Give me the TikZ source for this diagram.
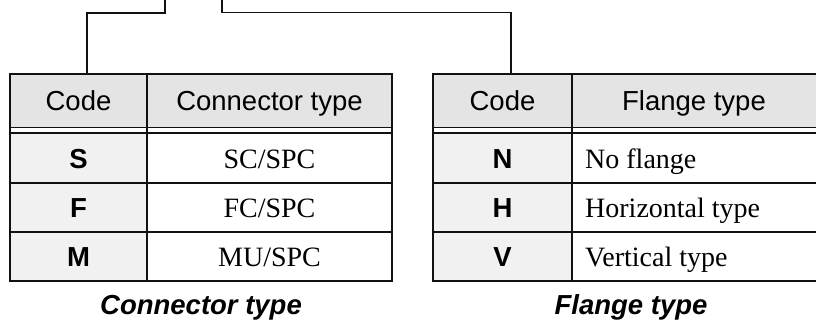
\documentclass[tikz,border=0pt]{standalone}
\usepackage{fontspec}
\setmainfont{Liberation Serif}
\setsansfont{Liberation Sans}
\definecolor{hdrfill}{HTML}{E4E4E4}
\definecolor{codefill}{HTML}{F1F1F1}
\definecolor{lineclr}{HTML}{111111}
\begin{document}
\begin{tikzpicture}[x=1pt,y=-1pt,
  hdr/.style={font=\sffamily\fontsize{27.5}{30}\selectfont,anchor=base,inner sep=0pt},
  codetxt/.style={font=\sffamily\bfseries\fontsize{27.5}{30}\selectfont,anchor=base,inner sep=0pt},
  valtxt/.style={font=\rmfamily\fontsize{28}{30}\selectfont,anchor=base,inner sep=0pt},
  valleft/.style={font=\rmfamily\fontsize{28}{30}\selectfont,anchor=base west,inner sep=0pt},
  captxt/.style={font=\sffamily\bfseries\itshape\fontsize{27.5}{32}\selectfont,anchor=base,inner sep=0pt},
  conn/.style={line width=1.5pt,draw=lineclr},
  gridline/.style={line width=1.6pt,draw=lineclr},
  border/.style={line width=2.2pt,draw=lineclr}]
\useasboundingbox (0,0) rectangle (816,320);
% ---------- left table ----------
\fill[hdrfill] (10,74) rectangle (392,128);
\fill[codefill] (10,133) rectangle (147,281);
\draw[gridline] (10,183) -- (392,183);
\draw[gridline] (10,232) -- (392,232);
\draw[line width=1pt,draw=lineclr] (10,128) -- (392,128);
\draw[line width=2.4pt,draw=lineclr] (10,132.8) -- (392,132.8);
\draw[gridline] (147,74) -- (147,281);
\draw[border] (10,74) rectangle (392,281);
\node[hdr] (lhc) at (78.5,110.5) {Code};
\node[hdr] (lhv) at (269.5,110.5) {Connector type};
\node[codetxt] (lc1) at (78.5,168.5) {S};
\node[codetxt] (lc2) at (78.5,218) {F};
\node[codetxt] (lc3) at (78.5,267) {M};
\node[valtxt] (lv1) at (269.5,168.5) {SC/SPC};
\node[valtxt] (lv2) at (269.5,218) {FC/SPC};
\node[valtxt] (lv3) at (269.5,267) {MU/SPC};
\node[captxt] (lcap) at (201,314) {Connector type};
% ---------- right table ----------
\fill[hdrfill] (433,74) rectangle (820,128);
\fill[codefill] (433,133) rectangle (572,281);
\draw[gridline] (433,183) -- (820,183);
\draw[gridline] (433,232) -- (820,232);
\draw[line width=1pt,draw=lineclr] (433,128) -- (820,128);
\draw[line width=2.4pt,draw=lineclr] (433,132.8) -- (820,132.8);
\draw[gridline] (572,74) -- (572,281);
\draw[border] (433,74) rectangle (820,281);
\node[hdr] (rhc) at (502.5,110.5) {Code};
\node[hdr] (rhv) at (694,110.5) {Flange type};
\node[codetxt] (rc1) at (502.5,168.5) {N};
\node[codetxt] (rc2) at (502.5,218) {H};
\node[codetxt] (rc3) at (502.5,267) {V};
\node[valleft] (rv1) at (585,168.5) {No flange};
\node[valleft] (rv2) at (585,218) {Horizontal type};
\node[valleft] (rv3) at (585,267) {Vertical type};
\node[captxt] (rcap) at (631,314) {Flange type};
% ---------- connectors ----------
\coordinate (lsrc) at (165,0);
\coordinate (ltop) at (87,74);
\coordinate (rsrc) at (222,0);
\coordinate (rtop) at (511,74);
\draw[conn] (lsrc) -- ++(0,13) -| (ltop);
\draw[conn] (rsrc) -- ++(0,12.5) -| (rtop);
\end{tikzpicture}
\end{document}
